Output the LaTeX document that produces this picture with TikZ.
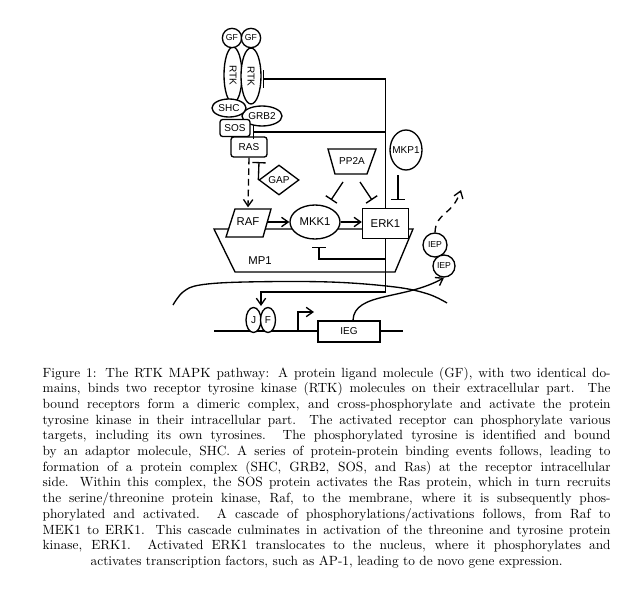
\documentclass[tikz,border=0pt]{standalone}
\usepackage{fontspec}
\newfontfamily\dfont{Liberation Sans}
\usetikzlibrary{arrows.meta,shapes.geometric}
\begin{document}
\begin{tikzpicture}[x=0.75pt,y=-0.75pt,line width=1pt,
  lblA/.style={font=\dfont\fontsize{8.5}{9}\selectfont},
  lblB/.style={font=\dfont\fontsize{7.5}{8}\selectfont},
  lblC/.style={font=\dfont\fontsize{6.5}{7}\selectfont},
  shp/.style={draw,fill=white,inner sep=0pt},
  act/.style={-{Straight Barb[length=5pt,width=7pt]}},
  inh/.style={-{Bar[width=10pt]}},
  capline/.style={anchor=base west,inner sep=0pt,font=\fontsize{10}{12}\selectfont}]
\useasboundingbox (0,0) rectangle (644,596);

% membrane / MP1
\draw (214,229) -- (413,229) -- (395,272) -- (235,272) -- cycle;
\node[lblA] (mp1) at (260,261) {MP1};

% DNA
\coordinate (dnaL) at (214,331);
\coordinate (dnaR) at (403,331);
\draw (dnaL) -- (dnaR);

% receptors
\node[shp,ellipse,rotate=-90,minimum width=42pt,minimum height=13.5pt,lblB] (rtk1) at (233,75) {RTK};
\node[shp,ellipse,rotate=-90,minimum width=42pt,minimum height=15pt,lblB] (rtk2) at (251,76) {RTK};
\node[shp,circle,minimum size=14.5pt,lblC] (gf1) at (232,38) {GF};
\node[shp,circle,minimum size=14.5pt,lblC] (gf2) at (251,38) {GF};
\node[shp,ellipse,minimum width=30pt,minimum height=15pt,lblB] (grb2) at (262,116) {GRB2};
\node[shp,ellipse,minimum width=25.5pt,minimum height=13.5pt,lblB] (shc) at (229,108) {SHC};
\node[shp,rectangle,rounded corners=2pt,minimum width=22.5pt,minimum height=12.75pt,lblB] (sos) at (235,128) {SOS};
\node[shp,rectangle,rounded corners=2pt,minimum width=27pt,minimum height=15pt,lblB] (ras) at (249,147) {RAS};
\node[shp,diamond,minimum width=30pt,minimum height=22.5pt,lblB] (gap) at (279,180) {GAP};

% RAF parallelogram
\draw[fill=white] (235,209) -- (271,209) -- (263,237) -- (226,237) -- cycle;
\node[lblA,minimum width=27pt,minimum height=21pt,inner sep=0pt] (raf) at (248,222) {RAF};
\node[shp,ellipse,minimum width=37.5pt,minimum height=25.5pt,lblA] (mkk1) at (315,222) {MKK1};
\node[shp,rectangle,minimum width=34.5pt,minimum height=22.5pt,lblA] (erk1) at (385.5,223.5) {ERK1};

% PP2A
\draw (328,149) -- (376,149) -- (367,174) -- (335,174) -- cycle;
\node[lblB,minimum width=36pt,minimum height=18.75pt,inner sep=0pt] (pp2a) at (352,161.5) {PP2A};
\node[shp,ellipse,inner xsep=-2pt,minimum width=24pt,minimum height=30pt,lblB] (mkp1) at (406,150) {MKP1};

% nucleus envelope
\draw plot[smooth,tension=0.6] coordinates {(173,305) (183,292) (200,285) (245,282) (330,282) (395,287) (428,294) (447,303)};

% gene
\node[shp,ellipse,minimum width=11.25pt,minimum height=18.75pt,lblB] (j) at (253.5,320) {J};
\node[shp,ellipse,minimum width=11.25pt,minimum height=18.75pt,lblB] (f) at (268,320) {F};
\node[shp,rectangle,minimum width=46.5pt,minimum height=15.75pt,lblB] (ieg) at (349,331.5) {IEG};
\coordinate (prom) at (298,331);
\coordinate (promtop) at (298,312);
\coordinate (promend) at (314,312);
\draw[act] (prom) -- (promtop) -- (promend);

% IEP
\node[shp,circle,minimum size=18pt,lblC] (iep1) at (435,245) {IEP};
\node[shp,circle,minimum size=16.5pt,lblC] (iep2) at (444,266) {IEP};

% connectors
\coordinate (rtkbar) at (263,79);
\coordinate (sosj) at (385.5,132);
\coordinate (sosbar) at (253,132);
\draw[-{Bar[width=13pt]}] (erk1.north) |- (rtkbar);
\draw[inh] (sosj) -- (sosbar);
\coordinate (gapbar) at (259,162);
\draw[inh] (gap.west) -- (gapbar);
\draw[act,dashed,dash pattern=on 5pt off 3pt] (ras.south) -- (raf.north);
\draw[act] (raf.east) -- (mkk1.west);
\draw[act] (mkk1.east) -- (mkk1.east -| erk1.west);
\coordinate (pp1s) at (343,182);
\coordinate (pp1e) at (331,200);
\coordinate (pp2s) at (360,182);
\coordinate (pp2e) at (372,200);
\draw[inh] (pp1s) -- (pp1e);
\draw[inh] (pp2s) -- (pp2e);
\coordinate (mkps) at (398,175);
\coordinate (mkpe) at (398,200);
\draw[inh] (mkps) -- (mkpe);
\coordinate (fbk) at (319,259);
\coordinate (fbkbar) at (319,247);
\draw[inh] (erk1.south) |- (fbk) -- (fbkbar);
\coordinate (nuc) at (261,292);
\coordinate (jf) at (261,306);
\draw[act] (erk1.south) |- (nuc) -- (jf);
\draw[act] ([xshift=3pt]ieg.north) .. controls (354,292) and (405,300) .. (iep2.south);
\coordinate (iepend) at (461,190);
\draw[act,dash pattern=on 5pt off 4pt] (iep1.north) .. controls (436,212) and (452,216) .. (iepend);

% caption
\node[capline] (c1) at (42,377) {\makebox[426pt][s]{Figure 1: The RTK MAPK pathway: A protein ligand molecule (GF), with two identical do-}};
\node[capline] (c2) at (42,392.7) {\makebox[426pt][s]{mains, binds two receptor tyrosine kinase (RTK) molecules on their extracellular part. The}};
\node[capline] (c3) at (42,408.4) {\makebox[426pt][s]{bound receptors form a dimeric complex, and cross-phosphorylate and activate the protein}};
\node[capline] (c4) at (42,424.1) {\makebox[426pt][s]{tyrosine kinase in their intracellular part. The activated receptor can phosphorylate various}};
\node[capline] (c5) at (42,439.8) {\makebox[426pt][s]{targets, including its own tyrosines. The phosphorylated tyrosine is identified and bound}};
\node[capline] (c6) at (42,455.5) {\makebox[426pt][s]{by an adaptor molecule, SHC. A series of protein-protein binding events follows, leading to}};
\node[capline] (c7) at (42,471.2) {\makebox[426pt][s]{formation of a protein complex (SHC, GRB2, SOS, and Ras) at the receptor intracellular}};
\node[capline] (c8) at (42,486.9) {\makebox[426pt][s]{side. Within this complex, the SOS protein activates the Ras protein, which in turn recruits}};
\node[capline] (c9) at (42,502.6) {\makebox[426pt][s]{the serine/threonine protein kinase, Raf, to the membrane, where it is subsequently phos-}};
\node[capline] (c10) at (42,518.3) {\makebox[426pt][s]{phorylated and activated. A cascade of phosphorylations/activations follows, from Raf to}};
\node[capline] (c11) at (42,534) {\makebox[426pt][s]{MEK1 to ERK1. This cascade culminates in activation of the threonine and tyrosine protein}};
\node[capline] (c12) at (42,549.7) {\makebox[426pt][s]{kinase, ERK1. Activated ERK1 translocates to the nucleus, where it phosphorylates and}};
\node[capline] (c13) at (42,565.4) {\makebox[426pt][c]{activates transcription factors, such as AP-1, leading to de novo gene expression.}};
\end{tikzpicture}
\end{document}
